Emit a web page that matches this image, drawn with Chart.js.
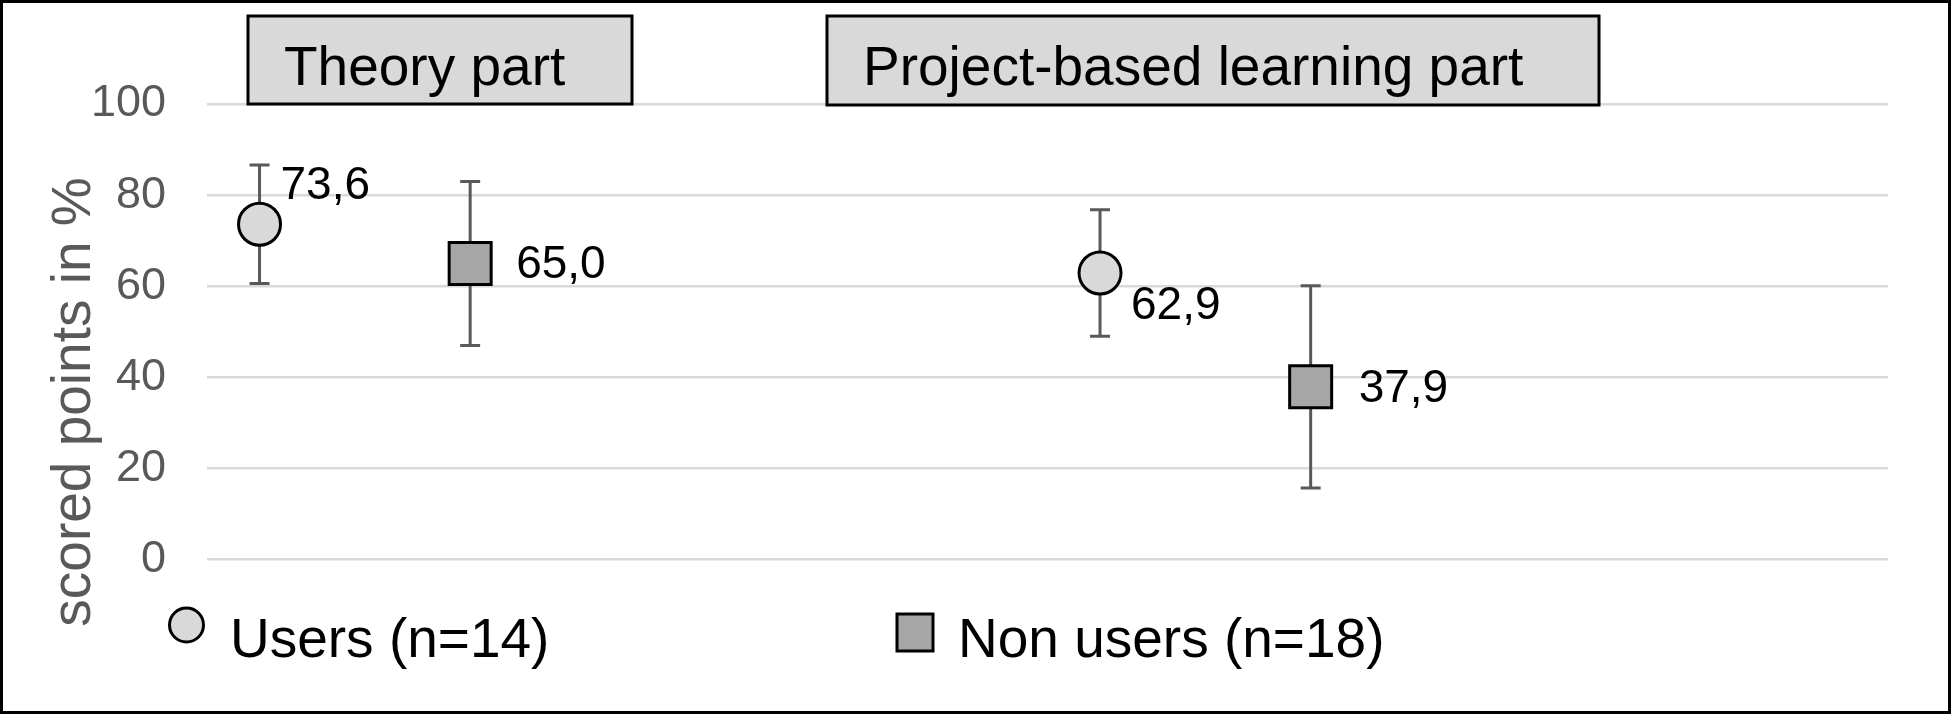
<!DOCTYPE html>
<html>
<head>
<meta charset="utf-8">
<script src="https://cdn.jsdelivr.net/npm/chart.js@4.4.1/dist/chart.umd.min.js"></script>
<style>
html, body { margin: 0; padding: 0; background: #fff; }
#wrap { width: 1953px; height: 716px; }
</style>
</head>
<body>
<div id="wrap"><canvas id="myChart" width="1953" height="716"></canvas></div>
<script>
// data
const categories = ['Theory part', 'Project-based learning part'];
const seriesNames = ['Users (n=14)', 'Non users (n=18)'];
const usersMean = [73.6, 62.9];
const usersSD = [13.0, 13.9];
const nonUsersMean = [65.0, 37.9];
const nonUsersSD = [18.0, 22.2];
const yTicks = [0, 20, 40, 60, 80, 100];
const yTitle = 'scored points in %';

// layout
const OFFSET = 0.1253;          // shift of each series from the group centre
const FONT = '"Liberation Sans", Arial, sans-serif';
const GREY_TXT = '#595959';
// label offsets from the marker centre: [dx to left edge, dy to baseline]
const labelPos = [
    [[21, -25], [31, 46]],      // users
    [[46, 15], [48, 15]]        // non users
];

Chart.defaults.font.family = FONT;

function fmt(v) {
    return v.toFixed(1).replace('.', ',');
}

function points(means, side) {
    return means.map(function(m, i) {
        return { x: i + side * OFFSET, y: m };
    });
}

const sds = [usersSD, nonUsersSD];
const means = [usersMean, nonUsersMean];

// error bars, under the markers
const errorBars = {
    id: 'errorBars',
    beforeDatasetsDraw(chart) {
        const ctx = chart.ctx;
        const y = chart.scales.y;
        ctx.save();
        ctx.strokeStyle = '#595959';
        ctx.lineWidth = 3;
        chart.data.datasets.forEach(function(ds, d) {
            const meta = chart.getDatasetMeta(d);
            meta.data.forEach(function(pt, i) {
                const top = y.getPixelForValue(means[d][i] + sds[d][i]);
                const bot = y.getPixelForValue(means[d][i] - sds[d][i]);
                ctx.beginPath();
                ctx.moveTo(pt.x, top); ctx.lineTo(pt.x, bot);
                ctx.moveTo(pt.x - 10, top); ctx.lineTo(pt.x + 10, top);
                ctx.moveTo(pt.x - 10, bot); ctx.lineTo(pt.x + 10, bot);
                ctx.stroke();
            });
        });
        ctx.restore();
    }
};

// labels, header boxes, legend, axis title, frame
const extras = {
    id: 'extras',
    afterDraw(chart) {
        const ctx = chart.ctx;
        ctx.save();

        // value labels
        ctx.fillStyle = '#000';
        ctx.font = '46px ' + FONT;
        ctx.textAlign = 'left';
        ctx.textBaseline = 'alphabetic';
        chart.data.datasets.forEach(function(ds, d) {
            chart.getDatasetMeta(d).data.forEach(function(pt, i) {
                ctx.fillText(fmt(means[d][i]), pt.x + labelPos[d][i][0], pt.y + labelPos[d][i][1]);
            });
        });

        // category header boxes
        const boxes = [[248, 16, 384, 88], [827, 16, 772, 89]];
        ctx.font = '55px ' + FONT;
        categories.forEach(function(c, i) {
            const b = boxes[i];
            ctx.fillStyle = '#d9d9d9';
            ctx.fillRect(b[0], b[1], b[2], b[3]);
            ctx.strokeStyle = '#000';
            ctx.lineWidth = 3;
            ctx.strokeRect(b[0], b[1], b[2], b[3]);
            ctx.fillStyle = '#000';
            ctx.fillText(c, b[0] + 36, 85);
        });

        // legend
        ctx.lineWidth = 3;
        ctx.strokeStyle = '#000';
        ctx.beginPath();
        ctx.arc(186.5, 625, 17, 0, Math.PI * 2);
        ctx.fillStyle = '#d9d9d9';
        ctx.fill();
        ctx.stroke();
        ctx.fillStyle = '#a6a6a6';
        ctx.fillRect(897, 614, 36, 37);
        ctx.strokeRect(897, 614, 36, 37);
        ctx.fillStyle = '#000';
        ctx.fillText(seriesNames[0], 230, 657);
        ctx.fillText(seriesNames[1], 958, 657);

        // y axis title
        ctx.save();
        ctx.translate(90, 402);
        ctx.rotate(-Math.PI / 2);
        ctx.textAlign = 'center';
        ctx.fillStyle = GREY_TXT;
        ctx.font = '55px ' + FONT;
        ctx.fillText(yTitle, 0, 0);
        ctx.restore();

        // outer frame
        ctx.strokeStyle = '#000';
        ctx.lineWidth = 3;
        ctx.strokeRect(1.5, 1.5, 1948, 711);
        ctx.restore();
    }
};

new Chart(document.getElementById('myChart'), {
    type: 'scatter',
    data: {
        datasets: [{
            label: seriesNames[0],
            data: points(usersMean, -1),
            pointStyle: 'circle',
            pointRadius: 21,
            pointHoverRadius: 21,
            backgroundColor: '#d9d9d9',
            borderColor: '#000',
            borderWidth: 3
        }, {
            label: seriesNames[1],
            data: points(nonUsersMean, 1),
            pointStyle: 'rect',
            pointRadius: 29.7,
            pointHoverRadius: 29.7,
            backgroundColor: '#a6a6a6',
            borderColor: '#000',
            borderWidth: 3
        }]
    },
    options: {
        responsive: false,
        animation: false,
        events: [],
        layout: {
            padding: { left: 0, right: 65, top: 104, bottom: 156.5 }
        },
        plugins: {
            legend: { display: false },
            tooltip: { enabled: false }
        },
        scales: {
            x: {
                type: 'linear',
                display: false,
                min: -0.1878,
                max: 1.8122
            },
            y: {
                min: 0,
                max: 100,
                afterBuildTicks: function(scale) {
                    scale.ticks = yTicks.map(function(v) { return { value: v }; });
                },
                afterFit: function(scale) {
                    scale.width = 207;
                },
                grid: {
                    color: '#d9d9d9',
                    lineWidth: 2.5,
                    drawTicks: false
                },
                border: { display: false },
                ticks: {
                    padding: 41,
                    color: GREY_TXT,
                    font: { size: 45 }
                }
            }
        }
    },
    plugins: [errorBars, extras]
});
</script>
</body>
</html>
